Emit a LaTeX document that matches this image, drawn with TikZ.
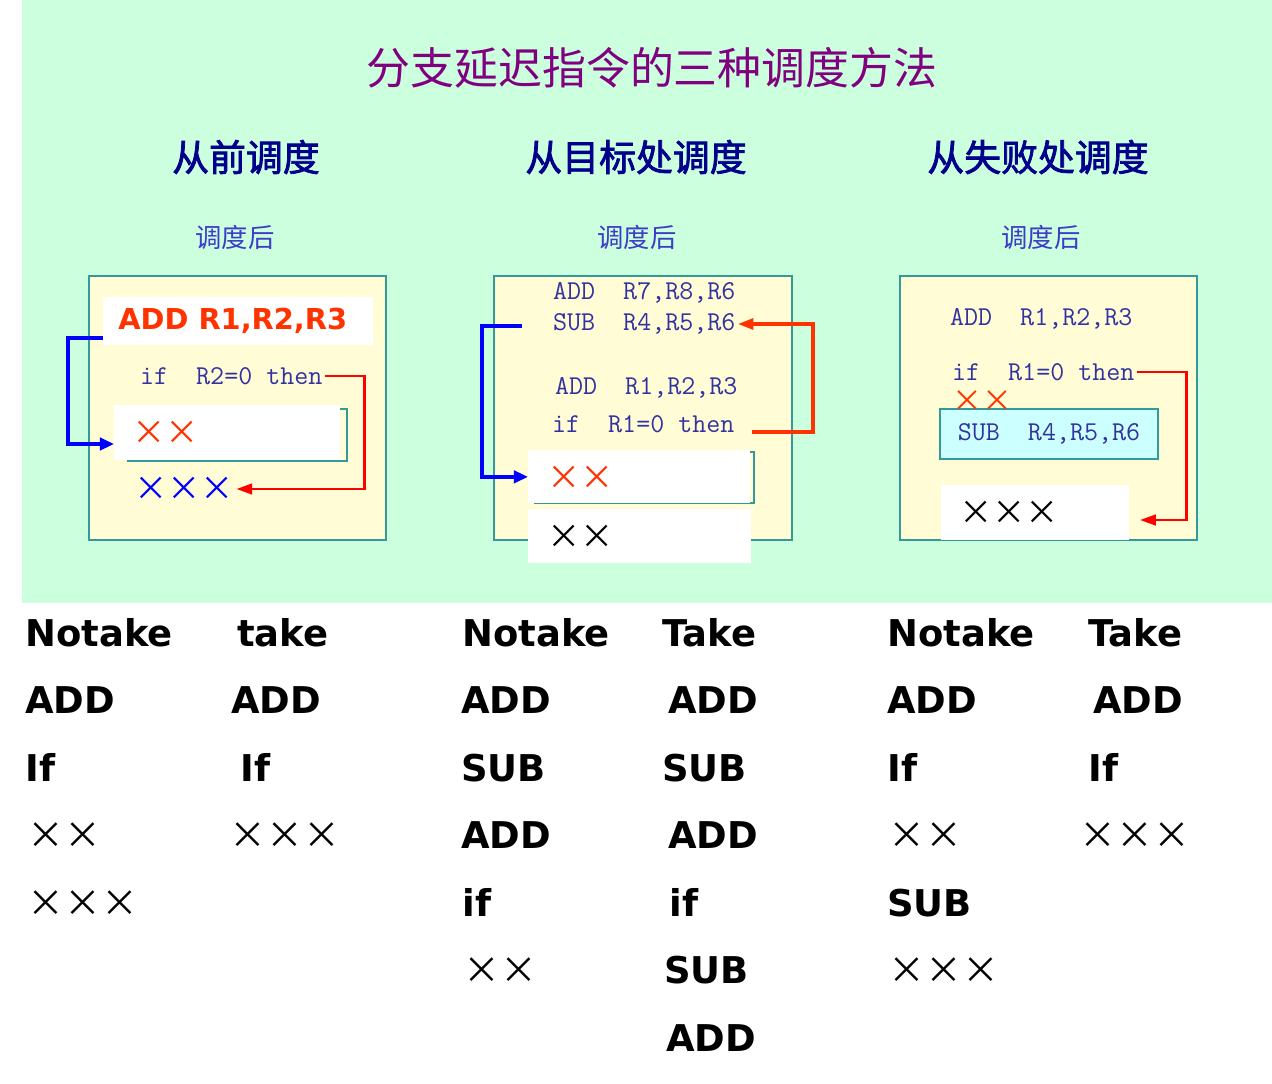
\documentclass[tikz,border=0pt]{standalone}
\usepackage{fontspec}
\usetikzlibrary{arrows.meta}
\newfontfamily\cjk{Noto Sans CJK SC}
\newfontfamily\cjkgrassetto[FakeBold=2]{Noto Sans CJK SC}
\newfontfamily\verdana{DejaVu Sans}
\definecolor{fondomenta}{RGB}{204,255,221}
\definecolor{crema}{RGB}{255,252,214}
\definecolor{verdeacqua}{RGB}{51,153,153}
\definecolor{viola}{RGB}{128,0,128}
\definecolor{blutitolo}{RGB}{0,0,140}
\definecolor{blusotto}{RGB}{60,60,200}
\definecolor{blucodice}{RGB}{50,50,160}
\definecolor{rossoacceso}{RGB}{255,51,0}
\definecolor{rossofreccia}{RGB}{255,0,0}
\definecolor{ciano}{RGB}{204,255,255}
\tikzset{
  pannello/.style={draw=verdeacqua,fill=crema,line width=1.4pt},
  bianco/.style={fill=white,inner sep=0pt,anchor=north west},
  codice/.style={text=blucodice,font=\ttfamily\fontsize{15.5}{15.5}\selectfont,inner sep=1pt,anchor=west},
  croci/.style={font=\cjk\fontsize{19}{19}\selectfont,inner sep=1pt,anchor=west},
  tabella/.style={font=\verdana\bfseries\fontsize{21}{21}\selectfont,inner sep=0pt,anchor=base west},
  frecciablu/.style={draw=blue,line width=2.2pt,-{Triangle[length=8pt,width=7pt]}},
  frecciarossa/.style={draw=rossofreccia,line width=1.6pt,-{Triangle[length=9pt,width=6pt]}},
}
\begin{document}
\begin{tikzpicture}[x=0.02cm,y=-0.02cm]
        % --- cornice e sfondo -----------------------------------------------
        \useasboundingbox (0,0) rectangle (1272,1083);
        \fill[fondomenta] (22,0) rectangle (1272,603);
        % --- titoli -----------------------------------------------------------
        \node[text=viola,font=\cjk\fontsize{25}{25}\selectfont] (titolo) at (652,68) {分支延迟指令的三种调度方法};
        \node[text=blutitolo,font=\cjkgrassetto\fontsize{21}{21}\selectfont] (prima) at (246,157) {从前调度};
        \node[text=blutitolo,font=\cjkgrassetto\fontsize{21}{21}\selectfont] (bersaglio) at (636,157) {从目标处调度};
        \node[text=blutitolo,font=\cjkgrassetto\fontsize{21}{21}\selectfont] (fallimento) at (1038,157) {从失败处调度};
        \node[text=blusotto,font=\cjk\fontsize{15}{15}\selectfont] (dopouno) at (235,237) {调度后};
        \node[text=blusotto,font=\cjk\fontsize{15}{15}\selectfont] (dopodue) at (637,237) {调度后};
        \node[text=blusotto,font=\cjk\fontsize{15}{15}\selectfont] (dopotre) at (1041,237) {调度后};
        % --- primo riquadro: dal prima ---------------------------------------
        \draw[pannello] (89,276) rectangle (386,540);
        \node[bianco,minimum width={270*0.02cm},minimum height={48*0.02cm}] (addbox) at (103,297) {};
        \node[text=rossoacceso,font=\verdana\bfseries\fontsize{16.4}{16.4}\selectfont,anchor=west,inner sep=0pt] (addtxt) at (118,321) {ADD R1,R2,R3};
        \node[codice] (ifuno) at (138,376) {if~~R2=0~then};
        \draw[verdeacqua,line width=1.4pt] (128,409) rectangle (347,461);
        \node[bianco,minimum width={226*0.02cm},minimum height={55*0.02cm}] (slotuno) at (114,405) {};
        \node[croci,text=rossoacceso] (xxuno) at (130,433) {××};
        \node[croci,text=blue] (xxxuno) at (132,489) {×××};
        \coordinate (partebluuno) at (103,338);
        \coordinate (arrivobluuno) at (114,444);
        \draw[frecciablu] (partebluuno) -- ++(-35,0) |- (arrivobluuno);
        \draw[frecciarossa] (ifuno.east) -- ++(40,0) |- (xxxuno.east);
        % --- secondo riquadro: dal bersaglio ---------------------------------
        \draw[pannello] (494,276) rectangle (792,540);
        \node[codice] (addsette) at (551,293) {ADD~~R7,R8,R6};
        \node[codice] (subdue) at (551,324) {SUB~~R4,R5,R6};
        \node[codice] (addunodue) at (553,388) {ADD~~R1,R2,R3};
        \node[codice] (ifdue) at (550,424) {if~~R1=0~then};
        \draw[verdeacqua,line width=1.4pt] (535,452) rectangle (754,503);
        \node[bianco,minimum width={222*0.02cm},minimum height={53*0.02cm}] (slotdue) at (528,450) {};
        \node[bianco,minimum width={223*0.02cm},minimum height={54*0.02cm}] (slotdueb) at (528,509) {};
        \node[croci,text=rossoacceso] (xxdue) at (545,478) {××};
        \node[croci] (xxdueb) at (545,537) {××};
        \coordinate (partebludue) at (522,326);
        \coordinate (parterossadue) at (752,432);
        \draw[frecciablu] (partebludue) -- ++(-40,0) |- (slotdue.west);
        \draw[frecciarossa,draw=rossoacceso,line width=2.2pt] (parterossadue) -- ++(61,0) |- (subdue.east);
        % --- terzo riquadro: dal fallimento ----------------------------------
        \draw[pannello] (900,276) rectangle (1197,540);
        \node[codice] (addtre) at (948,319) {ADD~~R1,R2,R3};
        \node[codice] (iftre) at (950,372) {if~~R1=0~then};
        \node[draw=verdeacqua,fill=ciano,line width=1.4pt,minimum width={218*0.02cm},minimum height={50*0.02cm},
              text=blucodice,font=\ttfamily\fontsize{15.5}{15.5}\selectfont] (subtre) at (1049,434) {SUB~~R4,R5,R6};
        \node[croci,text=rossoacceso,font=\cjk\fontsize{17}{17}\selectfont,inner sep=0pt] (xxtre) at (952,401) {××};
        \node[bianco,minimum width={188*0.02cm},minimum height={55*0.02cm}] (slottre) at (941,485) {};
        \node[croci] (xxxtre) at (957,513) {×××};
        \coordinate (arrivorossotre) at (1140,520);
        \draw[frecciarossa] (iftre.east) -- ++(50,0) |- (arrivorossotre);
        % --- tabella in basso ---------------------------------------------------
        \foreach \x/\t [count=\r] in {25/Notake,25/ADD,25/If,27/{\cjk\mdseries ××},27/{\cjk\mdseries ×××}}
          \node[tabella] (cunor\r) at (\x,{646+67.5*(\r-1)}) {\t};
        \foreach \x/\t [count=\r] in {237/take,231/ADD,240/If,229/{\cjk\mdseries ×××}}
          \node[tabella] (cduer\r) at (\x,{646+67.5*(\r-1)}) {\t};
        \foreach \x/\t [count=\r] in {462/Notake,461/ADD,461/SUB,461/ADD,462/if,463/{\cjk\mdseries ××}}
          \node[tabella] (ctrer\r) at (\x,{646+67.5*(\r-1)}) {\t};
        \foreach \x/\t [count=\r] in {662/Take,668/ADD,662/SUB,668/ADD,669/if,664/SUB,666/ADD}
          \node[tabella] (cquattror\r) at (\x,{646+67.5*(\r-1)}) {\t};
        \foreach \x/\t [count=\r] in {887/Notake,887/ADD,887/If,888/{\cjk\mdseries ××},887/SUB,888/{\cjk\mdseries ×××}}
          \node[tabella] (ccinquer\r) at (\x,{646+67.5*(\r-1)}) {\t};
        \foreach \x/\t [count=\r] in {1088/Take,1093/ADD,1088/If,1079/{\cjk\mdseries ×××}}
          \node[tabella] (cseir\r) at (\x,{646+67.5*(\r-1)}) {\t};
    \end{tikzpicture}
\end{document}
